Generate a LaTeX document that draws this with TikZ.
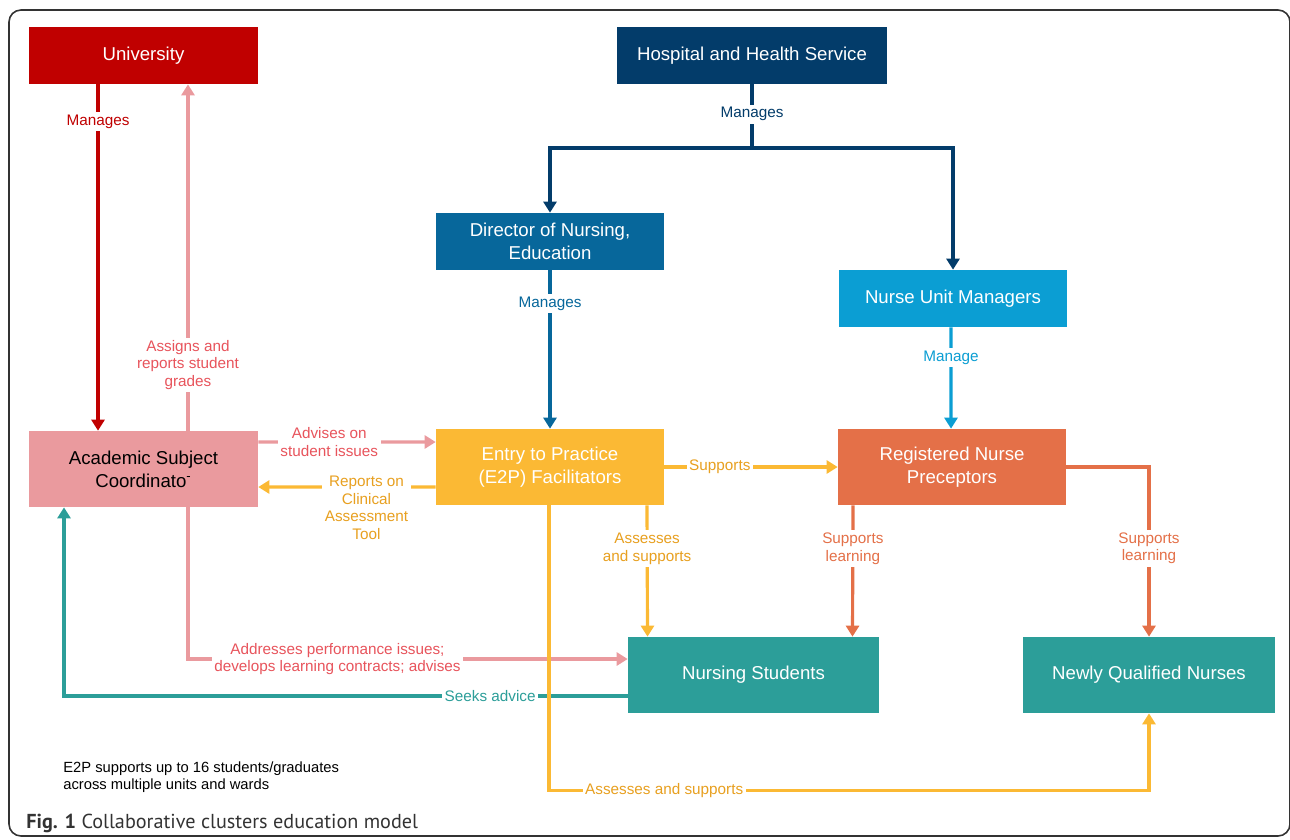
\documentclass[tikz,border=0pt]{standalone}
\usepackage{fontspec}
\setmainfont{Liberation Sans}
\newfontfamily\capfont{PT Sans}
\usetikzlibrary{arrows.meta}
\definecolor{uniRed}{RGB}{192,0,0}
\definecolor{hhsBlue}{RGB}{3,60,106}
\definecolor{dirBlue}{RGB}{7,103,155}
\definecolor{numBlue}{RGB}{11,158,211}
\definecolor{acadPink}{RGB}{234,154,158}
\definecolor{pinkText}{RGB}{232,84,92}
\definecolor{e2pGold}{RGB}{251,185,52}
\definecolor{goldText}{RGB}{232,160,32}
\definecolor{rnpOrange}{RGB}{228,112,72}
\definecolor{nsTeal}{RGB}{44,158,153}
\begin{document}
\begin{tikzpicture}[
  x=0.02cm, y=-0.02cm,
  box/.style={rectangle,inner sep=2pt,align=center,text=white,font=\fontsize{10.6}{13}\selectfont},
  lbl/.style={fill=white,inner sep=1.5pt,align=center,font=\fontsize{8.7}{10}\selectfont},
  conn/.style={line width=1.8pt,-{Triangle[width=0.26cm,length=0.22cm]}},
  link/.style={line width=1.8pt}
]
  \useasboundingbox (0,0) rectangle (1290,839);
  \draw[line width=0.9pt,black!80,rounded corners=0.24cm] (9,10) rectangle (1290,836);

  \node[box,fill=uniRed,minimum width=4.58cm,minimum height=1.14cm]   (uni)  at (143.5,55.5) {University};
  \node[box,fill=hhsBlue,minimum width=5.4cm,minimum height=1.14cm]   (hhs)  at (752,55.5)   {Hospital and Health Service};
  \node[box,fill=dirBlue,minimum width=4.56cm,minimum height=1.14cm]  (dir)  at (550,241.5)  {Director of Nursing,\\Education};
  \node[box,fill=numBlue,minimum width=4.56cm,minimum height=1.14cm]  (num)  at (953,298.5)  {Nurse Unit Managers};
  \node[box,fill=acadPink,text=black,minimum width=4.58cm,minimum height=1.52cm] (acad) at (143.5,469) {Academic Subject\\Coordinato\textsuperscript{-}};
  \node[box,fill=e2pGold,minimum width=4.56cm,minimum height=1.52cm]  (e2p)  at (550,467)    {Entry to Practice\\(E2P) Facilitators};
  \node[box,fill=rnpOrange,minimum width=4.56cm,minimum height=1.52cm] (rnp) at (952,467)    {Registered Nurse\\Preceptors};
  \node[box,fill=nsTeal,minimum width=5.02cm,minimum height=1.52cm]   (ns)   at (753.5,675)  {Nursing Students};
  \node[box,fill=nsTeal,minimum width=5.04cm,minimum height=1.52cm]   (nqn)  at (1149,675)   {Newly Qualified Nurses};
  \coordinate (split) at (752,148);

  \draw[conn,uniRed] ([xshift=-0.91cm]uni.south) -- node[lbl,text=uniRed,pos=0.107] {Manages} ([xshift=-0.91cm]acad.north);
  \draw[conn,acadPink] ([xshift=0.89cm]acad.north) -- node[lbl,text=pinkText,pos=0.19] {Assigns and\\reports student\\grades} ([xshift=0.89cm]uni.south);
  \draw[link,hhsBlue] (hhs.south) -- node[lbl,text=hhsBlue,pos=0.47] {Manages} (split);
  \draw[conn,hhsBlue] (split) -| (dir.north);
  \draw[conn,hhsBlue] (split) -| (num.north);
  \draw[conn,dirBlue] (dir.south) -- node[lbl,text=dirBlue,pos=0.21] {Manages} (e2p.north);
  \draw[conn,numBlue] ([xshift=-0.04cm]num.south) -- node[lbl,text=numBlue,pos=0.3] {Manage} ([xshift=-0.02cm]rnp.north);
  \draw[conn,acadPink] ([yshift=0.54cm]acad.east) -- node[lbl,text=pinkText,pos=0.4] {Advises on\\student issues} ([yshift=0.5cm]e2p.west);
  \draw[conn,e2pGold] ([yshift=-0.4cm]e2p.west) -- node[lbl,text=goldText,pos=0.39,anchor=north,yshift=0.3cm] {Reports on\\Clinical\\Assessment\\Tool} ([yshift=-0.36cm]acad.east);
  \draw[conn,e2pGold] (e2p.east) -- node[lbl,text=goldText,pos=0.32] {Supports} (rnp.west);
  \draw[conn,e2pGold] ([xshift=1.94cm]e2p.south) -- node[lbl,text=goldText,pos=0.33] {Assesses\\and supports} ([xshift=-2.12cm]ns.north);
  \draw[conn,rnpOrange] ([xshift=-1.98cm]rnp.south) -- node[lbl,text=rnpOrange,pos=0.33] {Supports\\learning} ([xshift=1.98cm]ns.north);
  \draw[conn,rnpOrange] (rnp.east) -| node[lbl,text=rnpOrange,pos=0.74] {Supports\\learning} (nqn.north);
  \draw[conn,acadPink] ([xshift=0.89cm]acad.south) |- node[lbl,text=pinkText,pos=0.67] {Addresses performance issues;\\develops learning contracts; advises} ([yshift=0.32cm]ns.west);
  \draw[conn,nsTeal] ([yshift=-0.42cm]ns.west) -| node[lbl,text=nsTeal,pos=0.122] {Seeks advice} ([xshift=-1.59cm]acad.south);
  \draw[conn,e2pGold] ([xshift=-0.02cm]e2p.south) -- ++(0,-5.7cm) -| node[lbl,text=goldText,pos=0.096] {Assesses and supports} (nqn.south);

  \node[anchor=north west,align=left,inner sep=0,font=\fontsize{8.4}{10}\selectfont] (note) at (63,761) {E2P supports up to 16 students/graduates\\across multiple units and wards};
  \node[anchor=base west,inner sep=0,text=black!80,font=\capfont\fontsize{11.5}{14}\selectfont] (cap) at (26,828) {\textbf{Fig. 1} Collaborative clusters education model};
\end{tikzpicture}
\end{document}
